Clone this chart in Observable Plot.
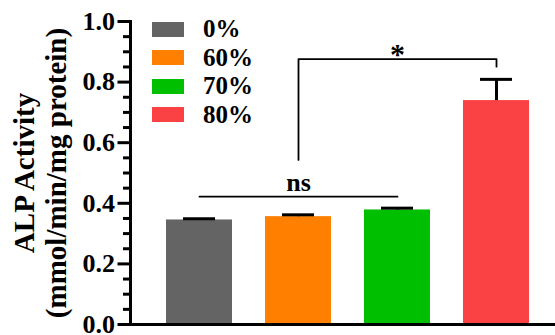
<!DOCTYPE html>
<html>
<head>
<meta charset="utf-8">
<script src="https://cdn.jsdelivr.net/npm/d3@7"></script>
<script src="https://cdn.jsdelivr.net/npm/@observablehq/plot@0.6"></script>
<style>
  html, body { margin: 0; padding: 0; background: #fff; }
  #wrap { position: relative; width: 555px; height: 335px; overflow: hidden; }
  #wrap svg, #wrap svg text { font-family: "Liberation Serif", "Times New Roman", Times, serif !important; font-weight: bold; }
  #legend { position: absolute; left: 152px; top: 15px; font-family: "Liberation Serif", "Times New Roman", Times, serif; font-weight: bold; font-size: 25px; color: #000; }
  .row { display: flex; align-items: center; height: 28.5px; }
  .sw { width: 32px; height: 15px; margin-right: 19px; box-sizing: border-box; }
</style>
</head>
<body>
<div id="wrap"><div id="legend"></div></div>
<script>
const groups = ["0%", "60%", "70%", "80%"];
const means = [0.345, 0.356, 0.378, 0.739];
const errors = [0.004, 0.006, 0.006, 0.07];
const colors = ["#646464", "#ff8000", "#00bf00", "#fa4144"];
const majorTicks = [0, 0.2, 0.4, 0.6, 0.8, 1.0];
const minorTicks = [0.05, 0.1, 0.15, 0.25, 0.3, 0.35, 0.45, 0.5, 0.55, 0.65, 0.7, 0.75, 0.85, 0.9, 0.95];
const nsGroups = ["0%", "70%"];
const nsLevel = 0.422;
const starGroups = ["60%", "60%", "80%", "80%"];
const starLevels = [0.543, 0.876, 0.876, 0.851];
const yLabelLines = ["ALP Activity", "(mmol/min/mg protein)"];

const data = groups.map((g, i) => ({group: g, mean: means[i], upper: means[i] + errors[i]}));
const nsLine = nsGroups.map(g => ({group: g, y: nsLevel}));
const starLine = starGroups.map((g, i) => ({group: g, y: starLevels[i]}));

const chart = Plot.plot({
  width: 555,
  height: 335,
  marginLeft: 130,
  marginRight: 0,
  marginTop: 21,
  marginBottom: 11,
  style: {background: "transparent", overflow: "visible"},
  x: {domain: groups, range: [130.67, 564], paddingInner: 1/3, paddingOuter: 1/3, axis: null},
  y: {domain: [0, 1], axis: null},
  color: {domain: groups, range: colors},
  marks: [
    Plot.barY(data, {x: "group", y: "mean", fill: "group"}),
    Plot.ruleX(data, {x: "group", y1: "mean", y2: "upper", stroke: "#000", strokeWidth: 3}),
    Plot.tickY(data, {x: "group", y: "upper", stroke: "#000", strokeWidth: 3, insetLeft: 17, insetRight: 17}),
    Plot.line(nsLine, {x: "group", y: "y", stroke: "#000", strokeWidth: 1.8}),
    Plot.text(["ns"], {x: ["60%"], y: [nsLevel], text: d => d, dy: -6, lineAnchor: "bottom", fontSize: 26, fontWeight: "bold", fill: "#000"}),
    Plot.line(starLine, {x: "group", y: "y", stroke: "#000", strokeWidth: 1.8}),
    Plot.text(["*"], {x: ["70%"], y: [starLevels[1]], text: d => d, dy: 5, lineAnchor: "bottom", fontSize: 30, fontWeight: "bold", fill: "#000"}),
    Plot.axisY({ticks: minorTicks, tickSize: 7, strokeWidth: 3, tickFormat: () => ""}),
    Plot.axisY({ticks: majorTicks, tickSize: 12.5, tickPadding: 3, strokeWidth: 3, fontSize: 26, fontWeight: "bold", fill: "#000", tickFormat: d3.format(".1f")}),
    Plot.ruleY([0], {stroke: "#000", strokeWidth: 3}),
    Plot.frame({anchor: "left", stroke: "#000", strokeWidth: 3}),
    Plot.text([yLabelLines.join("\n")], {frameAnchor: "left", dx: -91, rotate: -90, text: d => d, textAnchor: "middle", lineAnchor: "middle", lineHeight: 1.12, fontSize: 29, fontWeight: "bold", fill: "#000"})
  ]
});
const wrap = document.getElementById("wrap");
wrap.insertBefore(chart, wrap.firstChild);

const legend = document.getElementById("legend");
groups.forEach((g, i) => {
  const row = document.createElement("div");
  row.className = "row";
  const sw = document.createElement("span");
  sw.className = "sw";
  sw.style.background = colors[i];
  const lab = document.createElement("span");
  lab.textContent = g;
  row.appendChild(sw);
  row.appendChild(lab);
  legend.appendChild(row);
});
</script>
</body>
</html>
